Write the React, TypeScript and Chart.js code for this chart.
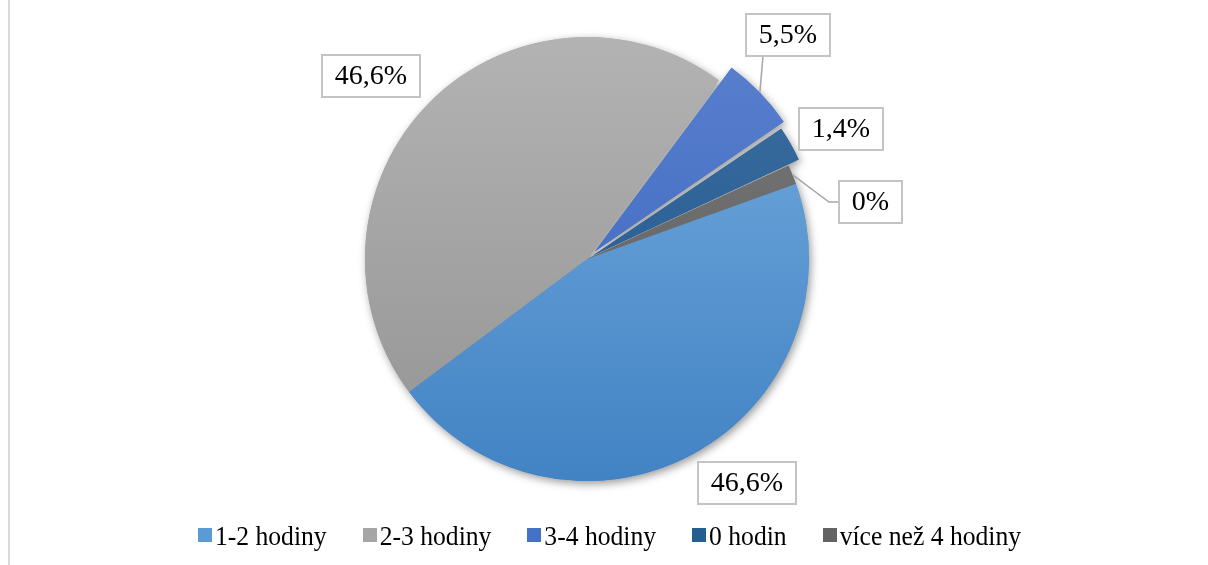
import { useEffect, useRef } from "react";
import { Chart, registerables } from "chart.js";

Chart.register(...registerables);

// ---- data ----
const categories = ["1-2 hodiny", "2-3 hodiny", "3-4 hodiny", "0 hodin", "více než 4 hodiny"];
const shares = [45.3, 45.3, 5.4, 2.6, 1.4];
const percentLabels = ["46,6%", "46,6%", "5,5%", "1,4%", "0%"];

// ---- styles ----
const topColors = ["#74abde", "#b3b3b3", "#5b81cf", "#3d6d9f", "#787878"];
const bottomColors = ["#4283c4", "#939393", "#3662bb", "#1c578e", "#5b5b5b"];
const legendColors = ["#5b9bd5", "#a5a5a5", "#4472c4", "#255e91", "#636363"];
const explodeOffsets = [0, 0, 43, 26, 0];
const PIE_RADIUS = 222;
const SERIF = '"Liberation Serif", "Times New Roman", serif';

const labelLayout = [
  { angle: 144.4, dist: 1.239, leader: "none" },
  { angle: 310.3, dist: 1.273, leader: "none" },
  { angle: 41.8, dist: 1.356, leader: "bottom" },
  { angle: 62.8, dist: 1.286, leader: "none" },
  { angle: 78.7, dist: 1.3, leader: "left" },
];

function shiftOf(arc: any) {
  const offset = (arc.options.offset || 0) / 4;
  const circ = arc.circumference || 0;
  const fix = 1 - Math.sin(Math.min(Math.PI, circ));
  const total = offset * (1 + fix);
  const half = (arc.startAngle + arc.endAngle) / 2;
  return { dx: Math.cos(half) * total, dy: Math.sin(half) * total, half };
}

const framePlugin = {
  id: "frame",
  beforeDraw(chart: any) {
    const ctx = chart.ctx;
    ctx.save();
    ctx.fillStyle = "#ffffff";
    ctx.fillRect(0, 0, chart.width, chart.height);
    ctx.fillStyle = "#d9d9d9";
    ctx.fillRect(8, 0, 2, chart.height);
    ctx.restore();
  },
};

const shadowPlugin = {
  id: "pieShadow",
  beforeDatasetsDraw(chart: any) {
    const ctx = chart.ctx;
    const meta = chart.getDatasetMeta(0);
    meta.data.forEach((arc: any) => {
      ctx.save();
      ctx.shadowColor = "rgba(0,0,0,0.4)";
      ctx.shadowBlur = 8;
      ctx.shadowOffsetX = 2;
      ctx.shadowOffsetY = 3;
      arc.draw(ctx);
      ctx.restore();
    });
  },
};

const labelPlugin = {
  id: "calloutLabels",
  afterDatasetsDraw(chart: any) {
    const ctx = chart.ctx;
    const meta = chart.getDatasetMeta(0);
    ctx.save();
    ctx.font = `28px ${SERIF}`;
    meta.data.forEach((arc: any, i: number) => {
      const lay = labelLayout[i];
      const R = arc.outerRadius;
      const a = (lay.angle * Math.PI) / 180;
      const cx = arc.x + Math.sin(a) * lay.dist * R;
      const cy = arc.y - Math.cos(a) * lay.dist * R;
      const text = percentLabels[i];
      const tw = ctx.measureText(text).width;
      const w = Math.round(tw + 26);
      const h = 42;
      const left = Math.round(cx - w / 2);
      const top = Math.round(cy - h / 2);

      if (lay.leader !== "none") {
        const s = shiftOf(arc);
        const px = arc.x + s.dx + Math.cos(s.half) * R;
        const py = arc.y + s.dy + Math.sin(s.half) * R;
        ctx.strokeStyle = "#a6a6a6";
        ctx.lineWidth = 1.5;
        ctx.beginPath();
        ctx.moveTo(px, py);
        if (lay.leader === "bottom") {
          ctx.lineTo(left + 17, top + h);
        } else {
          ctx.lineTo(left - 10, top + h / 2);
          ctx.lineTo(left, top + h / 2);
        }
        ctx.stroke();
      }

      ctx.fillStyle = "#ffffff";
      ctx.fillRect(left, top, w, h);
      ctx.strokeStyle = "#c4c4c4";
      ctx.lineWidth = 2;
      ctx.strokeRect(left, top, w, h);
      ctx.fillStyle = "#000000";
      ctx.textAlign = "center";
      ctx.textBaseline = "middle";
      ctx.fillText(text, left + w / 2, top + h / 2 + 1);
    });
    ctx.restore();
  },
};

const legendPlugin = {
  id: "condensedLegend",
  afterDraw(chart: any) {
    const ctx = chart.ctx;
    const labels: string[] = chart.data.labels;
    const squeeze = 0.915;
    const box = 14;
    const boxGap = 3;
    const itemGap = 36;
    const baseline = 545;
    const centerX = 609.5;
    ctx.save();
    ctx.font = `28px ${SERIF}`;
    const widths = labels.map((t) => ctx.measureText(t).width * squeeze);
    const total =
      widths.reduce((s, v) => s + v, 0) + labels.length * (box + boxGap) + (labels.length - 1) * itemGap;
    let x = centerX - total / 2;
    labels.forEach((t, i) => {
      ctx.fillStyle = legendColors[i];
      ctx.fillRect(Math.round(x), 528, box, box);
      x += box + boxGap;
      ctx.fillStyle = "#000000";
      ctx.textAlign = "left";
      ctx.textBaseline = "alphabetic";
      ctx.fillText(t, x, baseline, widths[i]);
      x += widths[i] + itemGap;
    });
    ctx.restore();
  },
};

export default function App() {
  const canvasRef = useRef<HTMLCanvasElement | null>(null);

  useEffect(() => {
    const canvas = canvasRef.current;
    if (!canvas) return;
    const chart = new Chart(canvas, {
      type: "pie",
      data: {
        labels: categories,
        datasets: [
          {
            data: shares,
            backgroundColor: (c: any) => {
              const i = c.dataIndex;
              const area = c.chart.chartArea;
              if (!area || i === undefined) return legendColors[i ?? 0];
              const cy = (area.top + area.bottom) / 2;
              const g = c.chart.ctx.createLinearGradient(0, cy - PIE_RADIUS, 0, cy + PIE_RADIUS);
              g.addColorStop(0, topColors[i]);
              g.addColorStop(1, bottomColors[i]);
              return g;
            },
            borderWidth: 0,
            offset: explodeOffsets,
            hoverOffset: 0,
          },
        ],
      },
      options: {
        animation: false,
        responsive: false,
        rotation: 70.2,
        radius: PIE_RADIUS,
        layout: { padding: { left: 0, right: 34, top: 0, bottom: 47 } },
        plugins: {
          legend: { display: false },
          title: { display: false },
          tooltip: { enabled: false },
        },
        events: [],
      },
      plugins: [framePlugin, shadowPlugin, labelPlugin, legendPlugin],
    });
    return () => chart.destroy();
  }, []);

  return (
    <div style={{ position: "absolute", left: 0, top: 0, width: 1208, height: 565 }}>
      <canvas ref={canvasRef} width={1208} height={565} style={{ width: 1208, height: 565, display: "block" }} />
    </div>
  );
}
